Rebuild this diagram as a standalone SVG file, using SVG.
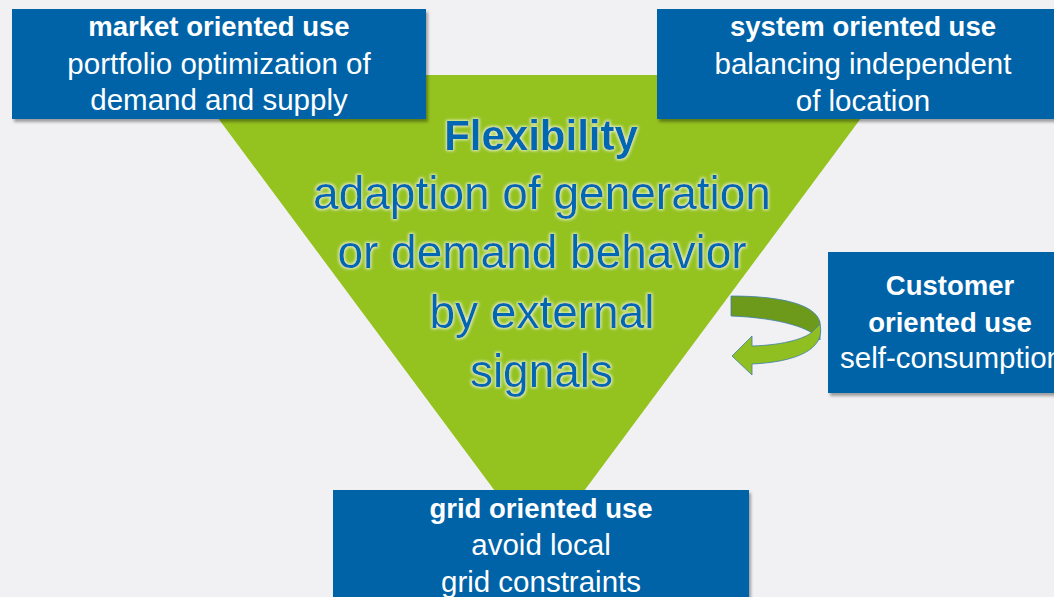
<svg xmlns="http://www.w3.org/2000/svg" width="1054" height="597" viewBox="0 0 1054 597">
  <defs>
    <filter id="shadow" x="-5%" y="-10%" width="115%" height="130%">
      <feGaussianBlur in="SourceAlpha" stdDeviation="1.8"/>
      <feOffset dx="1.5" dy="2.5" result="o"/>
      <feFlood flood-color="#000000" flood-opacity="0.35"/>
      <feComposite in2="o" operator="in" result="s"/>
      <feMerge><feMergeNode in="s"/><feMergeNode in="SourceGraphic"/></feMerge>
    </filter>
    <filter id="glow" x="-10%" y="-20%" width="120%" height="140%">
      <feMorphology in="SourceAlpha" operator="dilate" radius="1.2" result="d"/>
      <feGaussianBlur in="d" stdDeviation="1.4" result="b"/>
      <feFlood flood-color="#ffffff" flood-opacity="0.75"/>
      <feComposite in2="b" operator="in" result="g"/>
      <feMerge><feMergeNode in="g"/><feMergeNode in="SourceGraphic"/></feMerge>
    </filter>
    <style>
      .box { fill: #0064a8; filter: url(#shadow); }
      .bt { font-family: "Liberation Sans", Arial, sans-serif; fill: #ffffff; text-anchor: middle; }
      .b { font-weight: bold; font-size: 27.5px; }
      .r { font-size: 29.5px; }
      .mt { font-family: "Liberation Sans", Arial, sans-serif; fill: #0068b2; text-anchor: middle; filter: url(#glow); }
    </style>
  </defs>
  <rect width="1054" height="597" fill="#f1f1f3"/>

  <g id="flexibility">
    <polygon points="186,75 893,75 539.5,551" fill="#94c21f"/>
    <text class="mt" x="541" y="150" font-size="42" font-weight="bold">Flexibility</text>
    <text class="mt" x="542" y="209" font-size="46">adaption of generation</text>
    <text class="mt" x="542" y="268" font-size="46">or demand behavior</text>
    <text class="mt" x="542" y="328" font-size="46">by external</text>
    <text class="mt" x="541.5" y="387" font-size="46">signals</text>
  </g>

  <g id="connectors">
    <path d="M731,296 C780,296 815,304 820,322 L820,340 C812,328 780,318 731,316 Z" fill="#6e9a1c" stroke="#3f7fae" stroke-width="0.8"/>
    <path d="M820,324 C826,350 795,362 752,364 L752,375 L732,356 L752,336 L752,346 C785,345 808,338 814,330 Z" fill="#8fbf20" stroke="#3f7fae" stroke-width="0.8"/>
  </g>

  <g id="market">
    <rect class="box" x="12" y="9" width="414" height="110"/>
    <text class="bt b" x="219" y="36">market oriented use</text>
    <text class="bt r" x="219" y="74">portfolio optimization of</text>
    <text class="bt r" x="219" y="110">demand and supply</text>
  </g>

  <g id="system">
    <rect class="box" x="657" y="9" width="410" height="110"/>
    <text class="bt b" x="863" y="36">system oriented use</text>
    <text class="bt r" x="863" y="74">balancing independent</text>
    <text class="bt r" x="863" y="111">of location</text>
  </g>

  <g id="customer">
    <rect class="box" x="828" y="252" width="250" height="141"/>
    <text class="bt b" x="950" y="295">Customer</text>
    <text class="bt b" x="950" y="332">oriented use</text>
    <text class="bt r" x="840" y="368" style="text-anchor:start">self-consumption</text>
  </g>

  <g id="grid">
    <rect class="box" x="333" y="490" width="416" height="130"/>
    <text class="bt b" x="541" y="518">grid oriented use</text>
    <text class="bt r" x="541" y="555">avoid local</text>
    <text class="bt r" x="541" y="592">grid constraints</text>
  </g>
</svg>
